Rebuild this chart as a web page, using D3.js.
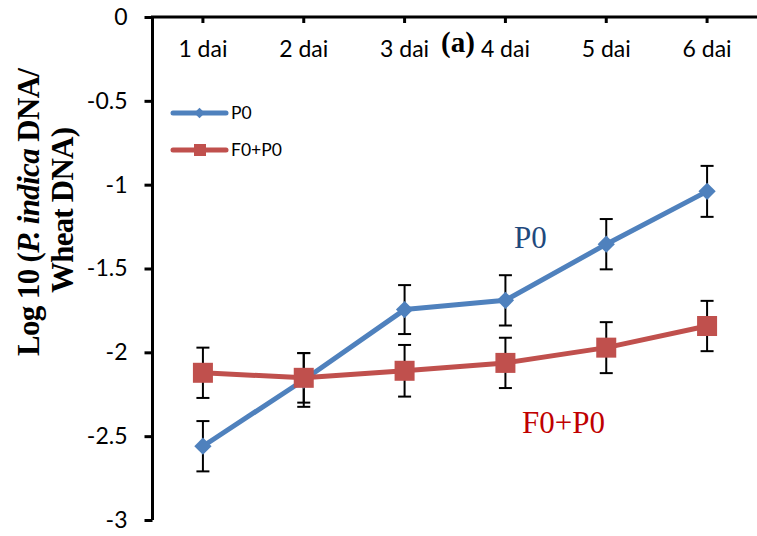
<!DOCTYPE html>
<html>
<head>
<meta charset="utf-8">
<script src="https://cdn.jsdelivr.net/npm/d3@7/dist/d3.min.js"></script>
<style>
  html, body { margin: 0; padding: 0; background: #fff; }
  svg { display: block; }
</style>
</head>
<body>
<script>
const categories = ["1 dai", "2 dai", "3 dai", "4 dai", "5 dai", "6 dai"];
const p0Values = [-2.56, -2.165, -1.745, -1.69, -1.355, -1.04];
const p0Errors = [0.15, 0.16, 0.146, 0.15, 0.15, 0.152];
const f0p0Values = [-2.122, -2.152, -2.11, -2.063, -1.972, -1.843];
const f0p0Errors = [0.15, 0.148, 0.154, 0.15, 0.152, 0.15];
const yTicks = [0, -0.5, -1, -1.5, -2, -2.5, -3];
const seriesNames = ["P0", "F0+P0"];

const W = 757, H = 536;
const svg = d3.select("body").append("svg").attr("width", W).attr("height", H);

const x = d3.scaleBand().domain(categories).range([152.5, 757.5]);
const y = d3.scaleLinear().domain([-3, 0]).range([520, 17]);
const cx = d => x(d) + x.bandwidth() / 2;

const blue = "#4F81BD", red = "#C0504D";
const labelFont = "Lato, 'Open Sans', sans-serif";
const serif = "'Liberation Serif', 'Times New Roman', serif";

// Y axis (left)
const yAxis = svg.append("g").attr("transform", "translate(152.5,0)")
  .call(d3.axisLeft(y).tickValues(yTicks).tickSize(8).tickPadding(17).tickFormat(d => String(d)));
yAxis.select(".domain").attr("stroke", "#000").attr("stroke-width", 3).attr("d", `M0,${y(-3)}V${y(0)}`);
yAxis.selectAll(".tick line").attr("stroke", "#000").attr("stroke-width", 3);
yAxis.selectAll(".tick text").attr("font-family", labelFont).attr("font-size", 23).attr("fill", "#000");

// Top axis (categories) at y=0
const xAxis = svg.append("g").attr("transform", `translate(0,${y(0)})`)
  .call(d3.axisBottom(x).tickSize(6).tickPadding(18));
xAxis.select(".domain").attr("stroke", "#000").attr("stroke-width", 3).attr("d", `M151,0H757`);
xAxis.selectAll(".tick line").attr("stroke", "#000").attr("stroke-width", 3);
xAxis.selectAll(".tick text").attr("font-family", labelFont).attr("font-size", 23).attr("fill", "#000");

// Y title (two lines)
const yt1 = svg.append("text")
  .attr("transform", "translate(38.5,212) rotate(-90)")
  .attr("text-anchor", "middle")
  .attr("font-family", serif).attr("font-weight", "bold").attr("font-size", 31)
  .attr("textLength", 288).attr("lengthAdjust", "spacing");
yt1.append("tspan").text("Log 10 (");
yt1.append("tspan").attr("font-style", "italic").text("P. indica");
yt1.append("tspan").text(" DNA/");
svg.append("text")
  .attr("transform", "translate(73,210) rotate(-90)")
  .attr("text-anchor", "middle")
  .attr("font-family", serif).attr("font-weight", "bold").attr("font-size", 31)
  .attr("textLength", 166).attr("lengthAdjust", "spacing")
  .text("Wheat DNA)");

// (a) label
svg.append("text").attr("x", 441).attr("y", 52)
  .attr("font-family", serif).attr("font-weight", "bold").attr("font-size", 29).text("(a)");

const series = [
  { name: seriesNames[0], vals: p0Values, errs: p0Errors, color: blue, marker: "diamond" },
  { name: seriesNames[1], vals: f0p0Values, errs: f0p0Errors, color: red, marker: "square" }
];

const line = d3.line().x((d, i) => cx(categories[i])).y(d => y(d));

series.forEach(s => {
  svg.append("path").datum(s.vals).attr("d", line)
    .attr("fill", "none").attr("stroke", s.color).attr("stroke-width", 5)
    .attr("stroke-linejoin", "round").attr("stroke-linecap", "round");
});

// Error bars
series.forEach(s => {
  const g = svg.append("g").attr("stroke", "#000").attr("stroke-width", 2);
  s.vals.forEach((v, i) => {
    const xc = cx(categories[i]);
    const y1 = y(v + s.errs[i]), y2 = y(v - s.errs[i]);
    g.append("line").attr("x1", xc).attr("x2", xc).attr("y1", y1).attr("y2", y2);
    g.append("line").attr("x1", xc - 6.5).attr("x2", xc + 6.5).attr("y1", y1).attr("y2", y1);
    g.append("line").attr("x1", xc - 6.5).attr("x2", xc + 6.5).attr("y1", y2).attr("y2", y2);
  });
});

// Markers
const diamond = d3.symbol().type(d3.symbolDiamond2).size(190);
series.forEach(s => {
  s.vals.forEach((v, i) => {
    const xc = cx(categories[i]), yc = y(v);
    if (s.marker === "diamond") {
      svg.append("path").attr("d", diamond()).attr("transform", `translate(${xc},${yc})`).attr("fill", s.color);
    } else {
      svg.append("rect").attr("x", xc - 10).attr("y", yc - 10).attr("width", 20).attr("height", 20).attr("fill", s.color);
    }
  });
});

// Legend
const legendY = [113, 150];
series.forEach((s, k) => {
  const ly = legendY[k];
  svg.append("line").attr("x1", 173).attr("x2", 226).attr("y1", ly).attr("y2", ly)
    .attr("stroke", s.color).attr("stroke-width", 5).attr("stroke-linecap", "round");
  if (s.marker === "diamond") {
    svg.append("path").attr("d", d3.symbol().type(d3.symbolDiamond2).size(70)()).attr("transform", `translate(199.5,${ly})`).attr("fill", s.color);
  } else {
    svg.append("rect").attr("x", 194).attr("y", ly - 6).attr("width", 12).attr("height", 12).attr("fill", s.color);
  }
  svg.append("text").attr("x", 231).attr("y", ly).attr("dy", "0.36em")
    .attr("font-family", labelFont).attr("font-size", 17.5).text(s.name);
});

// In-plot annotations
svg.append("text").attr("x", 514).attr("y", 248)
  .attr("font-family", serif).attr("font-size", 31).attr("fill", "#1F497D").text(seriesNames[0]);
svg.append("text").attr("x", 522).attr("y", 433)
  .attr("font-family", serif).attr("font-size", 31).attr("fill", "#C00000").text(seriesNames[1]);
</script>
</body>
</html>
